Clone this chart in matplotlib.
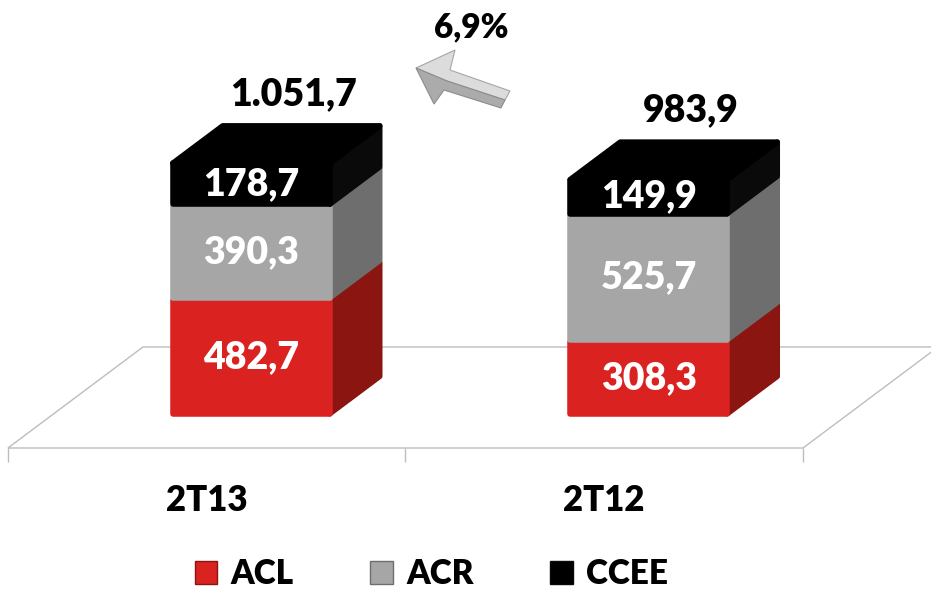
import matplotlib
matplotlib.use('Agg')
import matplotlib.pyplot as plt
from matplotlib.patches import Polygon, Patch

plt.rcParams['font.family'] = ['Lato', 'DejaVu Sans']
plt.rcParams['font.weight'] = 'heavy'

# data
categories = ['2T13', '2T12']
series = ['ACL', 'ACR', 'CCEE']
acl = [482.7, 308.3]
acr = [390.3, 525.7]
ccee = [178.7, 149.9]
totals = ['1.051,7', '983,9']
value_labels = [['482,7', '308,3'], ['390,3', '525,7'], ['178,7', '149,9']]
growth = '6,9%'

front_colors = ['#DA2320', '#A6A6A6', '#000000']
side_colors = ['#8A1511', '#6E6E6E', '#0A0A0A']
label_colors = ['white', 'white', 'white']

# pseudo-3d projection: depth z in [0, 1] shifts right and up
DX = 0.3396
DY = 420.8


def proj(x, y, z):
    return (x + z * DX, y + z * DY)


fig = plt.figure(figsize=(9.31, 5.89), dpi=100)
ax = fig.add_axes([0, 0, 1, 1])
ax.set_xlim(-0.52, 1.822)
ax.set_ylim(-587.5, 1866.7)
ax.axis('off')

# floor
floor = [proj(-0.5, 0, 0), proj(1.5, 0, 0), proj(1.5, 0, 1), proj(-0.5, 0, 1)]
ax.add_patch(Polygon(floor, closed=True, facecolor='none', edgecolor='#BDBDBD', lw=1.0, zorder=1))
ax.vlines([-0.5, 0.5, 1.5], -58, 0, color='#BDBDBD', lw=1.0, zorder=1)

# bars
width = 0.395
z0, z1 = 0.33, 0.70
gap = 4
stack = [acl, acr, ccee]
for i, cat in enumerate(categories):
    bottom = 0
    for s in range(len(series)):
        v = stack[s][i]
        y0 = bottom + gap
        y1 = bottom + v - gap
        xl = i - width / 2
        xr = i + width / 2
        side = [proj(xr, y0, z0), proj(xr, y0, z1), proj(xr, y1, z1), proj(xr, y1, z0)]
        ax.add_patch(Polygon(side, closed=True, facecolor=side_colors[s], edgecolor=side_colors[s],
                             lw=4, joinstyle='round', zorder=2 + s * 3))
        if s == len(series) - 1:
            top = [proj(xl, y1, z0), proj(xr, y1, z0), proj(xr, y1, z1), proj(xl, y1, z1)]
            ax.add_patch(Polygon(top, closed=True, facecolor=front_colors[s], edgecolor=front_colors[s],
                                 lw=4, joinstyle='round', zorder=3 + s * 3))
        front = [proj(xl, y0, z0), proj(xr, y0, z0), proj(xr, y1, z0), proj(xl, y1, z0)]
        ax.add_patch(Polygon(front, closed=True, facecolor=front_colors[s], edgecolor=front_colors[s],
                             lw=4, joinstyle='round', zorder=4 + s * 3))
        cx, cy = proj(i, bottom + v / 2, z0)
        ax.text(cx, cy, value_labels[s][i], color=label_colors[s], fontsize=27, fontweight='heavy',
                ha='center', va='center', zorder=20)
        bottom += v
    tx, ty = proj(i, bottom, z1)
    ax.annotate(totals[i], (tx - 0.02, ty), xytext=(0, 22), textcoords='offset points',
                fontsize=27, fontweight='heavy', ha='center', va='center', zorder=20)
    ax.text(i, -217, cat, fontsize=25, fontweight='heavy', ha='center', va='center')

# growth arrow (pixel coordinates of the figure)
px = lambda x, y: (x / 931, 1 - y / 589)
arrow_upper = [px(416, 68), px(455, 50), px(450, 70), px(510, 91), px(505, 100), px(447, 81)]
arrow_lower = [px(416, 68), px(447, 81), px(505, 100), px(501, 108), px(444, 90), px(434, 104)]
fig.patches.append(Polygon(arrow_upper, closed=True, transform=fig.transFigure,
                           facecolor='#DCDCDC', edgecolor='#A6A6A6', lw=0.8))
fig.patches.append(Polygon(arrow_lower, closed=True, transform=fig.transFigure,
                           facecolor='#ABABAB', edgecolor='#8C8C8C', lw=0.8))
fig.text(471 / 931, 1 - 27 / 589, growth, fontsize=24, fontweight='heavy', ha='center', va='center')

# legend
handles = [Patch(facecolor=front_colors[k], edgecolor=side_colors[k], label=series[k]) for k in range(3)]
fig.legend(handles=handles, loc='center', bbox_to_anchor=(0.4635, 0.0255), ncol=3, frameon=False,
           handlelength=0.68, handleheight=0.68, handletextpad=0.4, columnspacing=2.3,
           prop={'weight': 'heavy', 'size': 24})

fig.savefig('out.png', dpi=100)
